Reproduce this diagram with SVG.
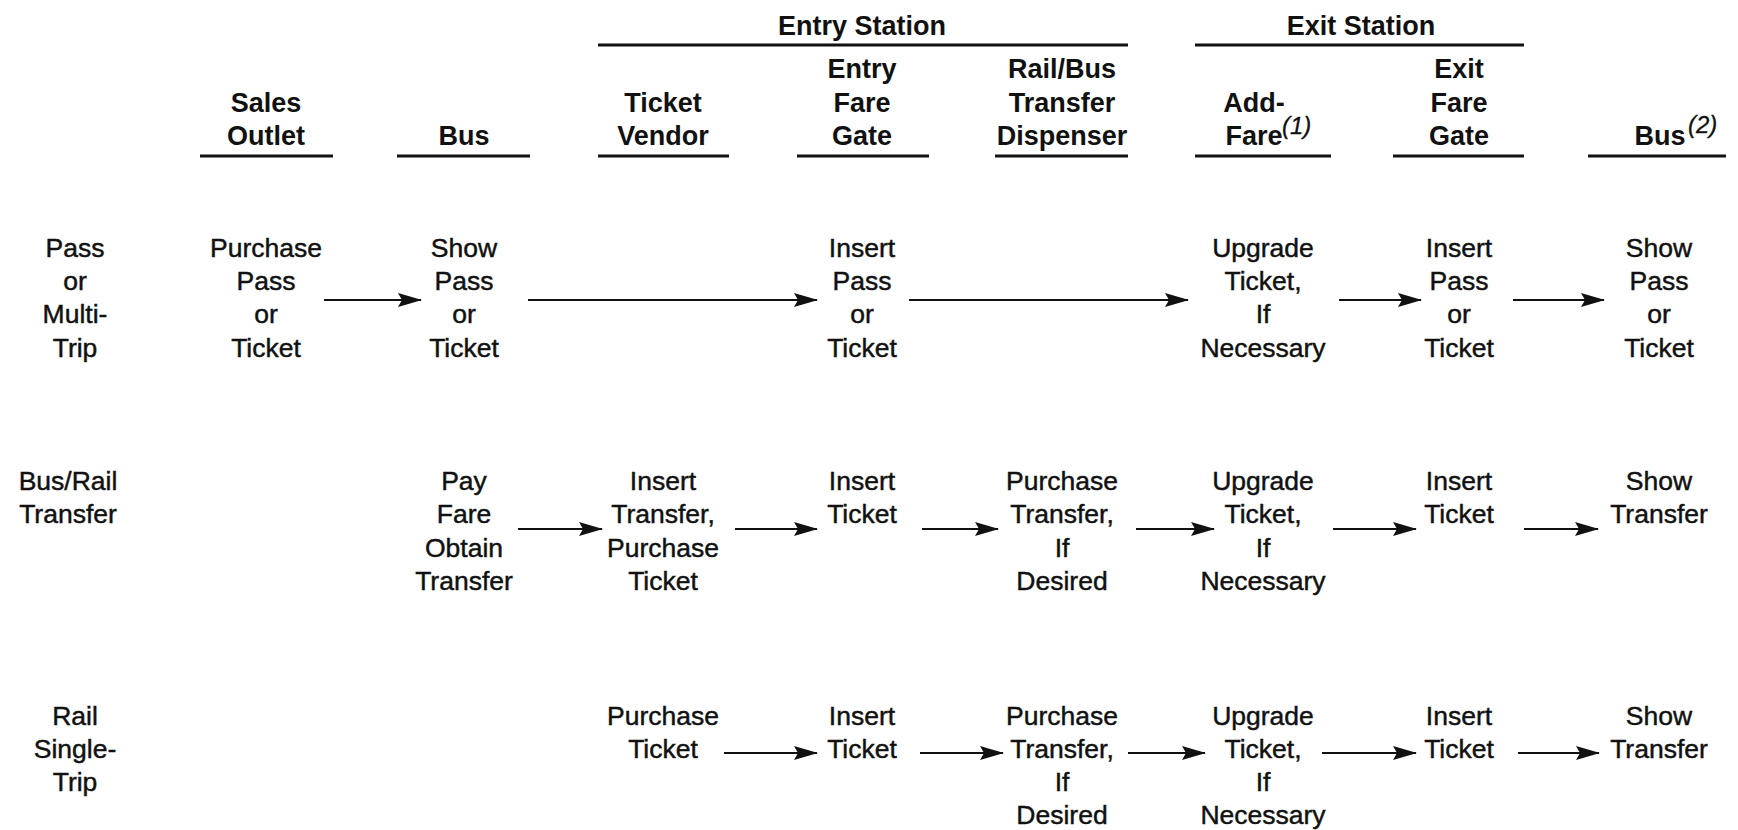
<svg xmlns="http://www.w3.org/2000/svg" width="1738" height="830" viewBox="0 0 1738 830">
<style>
text{font-family:"Liberation Sans",Arial,sans-serif;fill:#111;text-anchor:middle}
.h{font-weight:bold;font-size:27px}
.b{font-size:26.5px;stroke:#111;stroke-width:0.45}
.sup{font-style:italic;font-size:24px;text-anchor:start;stroke:#111;stroke-width:0.3}
.ul{stroke:#111;stroke-width:3;fill:none}
.ar{stroke:#111;stroke-width:2;fill:none;marker-end:url(#ah)}
</style>
<defs>
<marker id="ah" markerWidth="24" markerHeight="14" refX="23" refY="7" orient="auto" markerUnits="userSpaceOnUse">
<path d="M0,0 L24,7 L0,14 L4,7 z" fill="#111"/>
</marker>
</defs>
<rect width="1738" height="830" fill="#fff"/>

<g id="group-headers">
<text class="h" x="862" y="35">Entry Station</text>
<line class="ul" x1="598" y1="45" x2="1128" y2="45"/>
<text class="h" x="1361" y="35">Exit Station</text>
<line class="ul" x1="1195" y1="45" x2="1524" y2="45"/>
</g>

<g id="col-sales-outlet">
<text class="h" x="266"><tspan x="266" y="112">Sales</tspan><tspan x="266" y="145">Outlet</tspan></text>
<line class="ul" x1="200" y1="156" x2="333" y2="156"/>
</g>
<g id="col-bus">
<text class="h" x="464" y="145">Bus</text>
<line class="ul" x1="397" y1="156" x2="530" y2="156"/>
</g>
<g id="col-ticket-vendor">
<text class="h"><tspan x="663" y="112">Ticket</tspan><tspan x="663" y="145">Vendor</tspan></text>
<line class="ul" x1="598" y1="156" x2="729" y2="156"/>
</g>
<g id="col-entry-gate">
<text class="h"><tspan x="862" y="78">Entry</tspan><tspan x="862" y="112">Fare</tspan><tspan x="862" y="145">Gate</tspan></text>
<line class="ul" x1="797" y1="156" x2="929" y2="156"/>
</g>
<g id="col-dispenser">
<text class="h"><tspan x="1062" y="78">Rail/Bus</tspan><tspan x="1062" y="112">Transfer</tspan><tspan x="1062" y="145">Dispenser</tspan></text>
<line class="ul" x1="995" y1="156" x2="1128" y2="156"/>
</g>
<g id="col-add-fare">
<text class="h"><tspan x="1254" y="112">Add-</tspan><tspan x="1254" y="145">Fare</tspan></text>
<text class="sup" x="1282" y="134">(1)</text>
<line class="ul" x1="1195" y1="156" x2="1331" y2="156"/>
</g>
<g id="col-exit-gate">
<text class="h"><tspan x="1459" y="78">Exit</tspan><tspan x="1459" y="112">Fare</tspan><tspan x="1459" y="145">Gate</tspan></text>
<line class="ul" x1="1393" y1="156" x2="1524" y2="156"/>
</g>
<g id="col-bus2">
<text class="h" x="1660" y="145">Bus</text>
<text class="sup" x="1688" y="133">(2)</text>
<line class="ul" x1="1588" y1="156" x2="1726" y2="156"/>
</g>

<g id="row-pass">
<text class="b"><tspan x="75" y="257">Pass</tspan><tspan x="75" y="290">or</tspan><tspan x="75" y="323">Multi-</tspan><tspan x="75" y="357">Trip</tspan></text>
</g>
<g id="r1-sales">
<text class="b"><tspan x="266" y="257">Purchase</tspan><tspan x="266" y="290">Pass</tspan><tspan x="266" y="323">or</tspan><tspan x="266" y="357">Ticket</tspan></text>
</g>
<g id="r1-bus">
<text class="b"><tspan x="464" y="257">Show</tspan><tspan x="464" y="290">Pass</tspan><tspan x="464" y="323">or</tspan><tspan x="464" y="357">Ticket</tspan></text>
</g>
<g id="r1-entry">
<text class="b"><tspan x="862" y="257">Insert</tspan><tspan x="862" y="290">Pass</tspan><tspan x="862" y="323">or</tspan><tspan x="862" y="357">Ticket</tspan></text>
</g>
<g id="r1-addfare">
<text class="b"><tspan x="1263" y="257">Upgrade</tspan><tspan x="1263" y="290">Ticket,</tspan><tspan x="1263" y="323">If</tspan><tspan x="1263" y="357">Necessary</tspan></text>
</g>
<g id="r1-exit">
<text class="b"><tspan x="1459" y="257">Insert</tspan><tspan x="1459" y="290">Pass</tspan><tspan x="1459" y="323">or</tspan><tspan x="1459" y="357">Ticket</tspan></text>
</g>
<g id="r1-bus2">
<text class="b"><tspan x="1659" y="257">Show</tspan><tspan x="1659" y="290">Pass</tspan><tspan x="1659" y="323">or</tspan><tspan x="1659" y="357">Ticket</tspan></text>
</g>

<g id="row-transfer">
<text class="b"><tspan x="68" y="490">Bus/Rail</tspan><tspan x="68" y="523">Transfer</tspan></text>
</g>
<g id="r2-bus">
<text class="b"><tspan x="464" y="490">Pay</tspan><tspan x="464" y="523">Fare</tspan><tspan x="464" y="557">Obtain</tspan><tspan x="464" y="590">Transfer</tspan></text>
</g>
<g id="r2-vendor">
<text class="b"><tspan x="663" y="490">Insert</tspan><tspan x="663" y="523">Transfer,</tspan><tspan x="663" y="557">Purchase</tspan><tspan x="663" y="590">Ticket</tspan></text>
</g>
<g id="r2-entry">
<text class="b"><tspan x="862" y="490">Insert</tspan><tspan x="862" y="523">Ticket</tspan></text>
</g>
<g id="r2-dispenser">
<text class="b"><tspan x="1062" y="490">Purchase</tspan><tspan x="1062" y="523">Transfer,</tspan><tspan x="1062" y="557">If</tspan><tspan x="1062" y="590">Desired</tspan></text>
</g>
<g id="r2-addfare">
<text class="b"><tspan x="1263" y="490">Upgrade</tspan><tspan x="1263" y="523">Ticket,</tspan><tspan x="1263" y="557">If</tspan><tspan x="1263" y="590">Necessary</tspan></text>
</g>
<g id="r2-exit">
<text class="b"><tspan x="1459" y="490">Insert</tspan><tspan x="1459" y="523">Ticket</tspan></text>
</g>
<g id="r2-bus2">
<text class="b"><tspan x="1659" y="490">Show</tspan><tspan x="1659" y="523">Transfer</tspan></text>
</g>

<g id="row-single">
<text class="b"><tspan x="75" y="725">Rail</tspan><tspan x="75" y="758">Single-</tspan><tspan x="75" y="791">Trip</tspan></text>
</g>
<g id="r3-vendor">
<text class="b"><tspan x="663" y="725">Purchase</tspan><tspan x="663" y="758">Ticket</tspan></text>
</g>
<g id="r3-entry">
<text class="b"><tspan x="862" y="725">Insert</tspan><tspan x="862" y="758">Ticket</tspan></text>
</g>
<g id="r3-dispenser">
<text class="b"><tspan x="1062" y="725">Purchase</tspan><tspan x="1062" y="758">Transfer,</tspan><tspan x="1062" y="791">If</tspan><tspan x="1062" y="824">Desired</tspan></text>
</g>
<g id="r3-addfare">
<text class="b"><tspan x="1263" y="725">Upgrade</tspan><tspan x="1263" y="758">Ticket,</tspan><tspan x="1263" y="791">If</tspan><tspan x="1263" y="824">Necessary</tspan></text>
</g>
<g id="r3-exit">
<text class="b"><tspan x="1459" y="725">Insert</tspan><tspan x="1459" y="758">Ticket</tspan></text>
</g>
<g id="r3-bus2">
<text class="b"><tspan x="1659" y="725">Show</tspan><tspan x="1659" y="758">Transfer</tspan></text>
</g>

<g id="connectors">
<line class="ar" x1="324" y1="300" x2="421" y2="300"/>
<line class="ar" x1="528" y1="300" x2="817" y2="300"/>
<line class="ar" x1="909" y1="300" x2="1188" y2="300"/>
<line class="ar" x1="1339" y1="300" x2="1421" y2="300"/>
<line class="ar" x1="1513" y1="300" x2="1604" y2="300"/>

<line class="ar" x1="518" y1="529" x2="602" y2="529"/>
<line class="ar" x1="735" y1="529" x2="817" y2="529"/>
<line class="ar" x1="922" y1="529" x2="998" y2="529"/>
<line class="ar" x1="1136" y1="529" x2="1214" y2="529"/>
<line class="ar" x1="1333" y1="529" x2="1416" y2="529"/>
<line class="ar" x1="1524" y1="529" x2="1598" y2="529"/>

<line class="ar" x1="724" y1="753" x2="817" y2="753"/>
<line class="ar" x1="920" y1="753" x2="1003" y2="753"/>
<line class="ar" x1="1128" y1="753" x2="1205" y2="753"/>
<line class="ar" x1="1322" y1="753" x2="1416" y2="753"/>
<line class="ar" x1="1518" y1="753" x2="1599" y2="753"/>
</g>
</svg>
